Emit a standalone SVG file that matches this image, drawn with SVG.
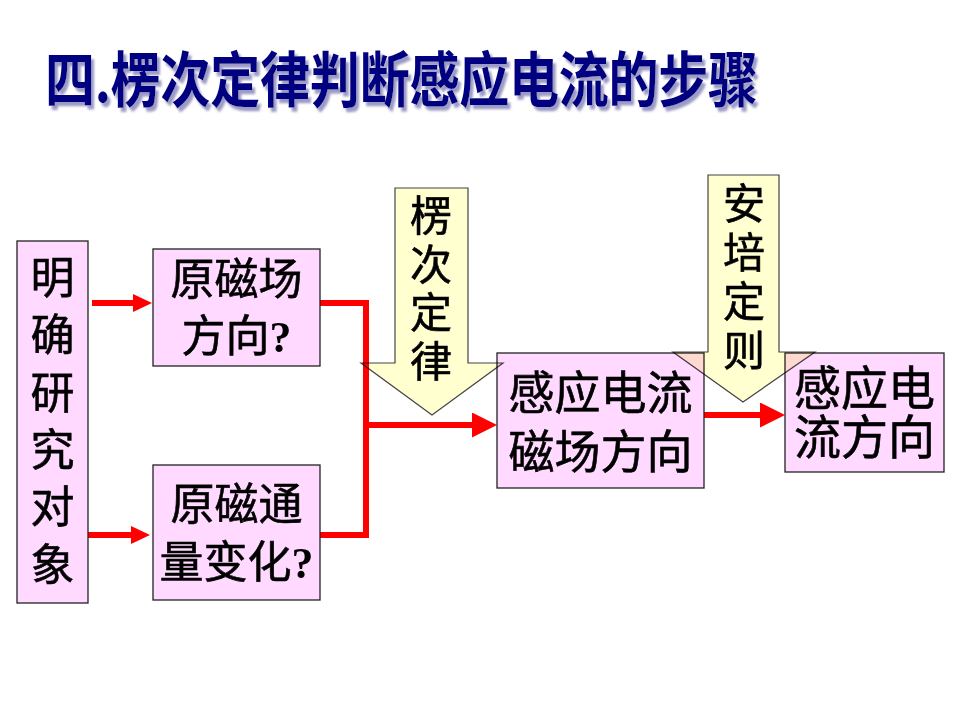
<svg xmlns="http://www.w3.org/2000/svg" width="960" height="720" viewBox="0 0 960 720">
<defs>
<style>
.box{fill:#FFD9FF;stroke:#222;stroke-width:1.3}
.t{font-family:"Noto Sans CJK SC","Noto Sans CJK JP",sans-serif;font-size:44px;fill:#000;stroke:#000;stroke-width:0.6px;text-anchor:middle}
.v{text-anchor:start;writing-mode:vertical-rl;text-orientation:upright}
.q{font-family:"Liberation Serif",serif;font-weight:bold;stroke-width:0}
.big{fill:#FFFFD0;stroke:#444;stroke-width:1.2;mix-blend-mode:multiply}
.red{fill:none;stroke:#FF0000;stroke-width:6}
.title{font-family:"Noto Sans CJK SC",sans-serif;font-weight:bold;font-size:50px;fill:#000080}
</style>
<filter id="sh" x="-5%" y="-20%" width="110%" height="150%">
<feDropShadow dx="3" dy="3.5" stdDeviation="1" flood-color="#9090C0" flood-opacity="0.9"/>
</filter>
<marker id="hs" viewBox="0 0 19 18" markerUnits="userSpaceOnUse" markerWidth="19" markerHeight="18" refX="0" refY="9" orient="auto"><path d="M0,0 L19,9 L0,18 Z" fill="#FF0000"/></marker>
<marker id="hb" viewBox="0 0 25 25" markerUnits="userSpaceOnUse" markerWidth="25" markerHeight="25" refX="0" refY="12.5" orient="auto"><path d="M0,0 L25,12.5 L0,25 Z" fill="#FF0000"/></marker>
</defs>
<rect width="960" height="720" fill="#FFFFFF"/>
<g id="title">
<text class="title" filter="url(#sh)" transform="translate(45,102) scale(1,1.2)" textLength="713" lengthAdjust="spacing">四.楞次定律判断感应电流的步骤</text>
</g>
<g id="connectors">
<line class="red" x1="92" y1="303" x2="133" y2="303" marker-end="url(#hs)"/>
<line class="red" x1="88" y1="535" x2="131" y2="535" marker-end="url(#hs)"/>
<path class="red" d="M320,303 H366 V535 H320"/>
<line class="red" x1="366" y1="425" x2="472" y2="425" marker-end="url(#hb)"/>
<line class="red" x1="704" y1="415" x2="760" y2="415" marker-end="url(#hb)"/>
</g>
<g id="object">
<rect class="box" x="17" y="241" width="71" height="362"/>
<text class="t v" x="52.5" y="255" style="letter-spacing:13.4px">明确研究对象</text>
</g>
<g id="field-direction">
<rect class="box" x="153" y="249" width="167" height="117"/>
<text class="t"><tspan x="236.5" y="295">原磁场</tspan><tspan x="236.5" y="352">方向<tspan class="q">?</tspan></tspan></text>
</g>
<g id="flux-change">
<rect class="box" x="153" y="465" width="167" height="135"/>
<text class="t"><tspan x="236.5" y="520">原磁通</tspan><tspan x="236.5" y="578">量变化<tspan class="q">?</tspan></tspan></text>
</g>
<g id="induced-field">
<rect class="box" x="497" y="353" width="207" height="135"/>
<text class="t" style="font-size:46px"><tspan x="600.5" y="409">感应电流</tspan><tspan x="600.5" y="468">磁场方向</tspan></text>
</g>
<g id="induced-current">
<rect class="box" x="785" y="353" width="159" height="119"/>
<text class="t" style="font-size:47px"><tspan x="864.5" y="405">感应电</tspan><tspan x="864.5" y="454">流方向</tspan></text>
</g>
<g id="lenz-law">
<polygon class="big" points="395,188 468,188 468,363 503,363 432,415 361,363 395,363"/>
<text class="t v" x="431" y="194" style="font-size:42px;letter-spacing:6.7px">楞次定律</text>
</g>
<g id="ampere-rule">
<polygon class="big" points="708,175 779,175 779,352 815,352 743,402 673,352 708,352"/>
<text class="t v" x="744" y="182" style="font-size:42px;letter-spacing:7px">安培定则</text>
</g>
</svg>
